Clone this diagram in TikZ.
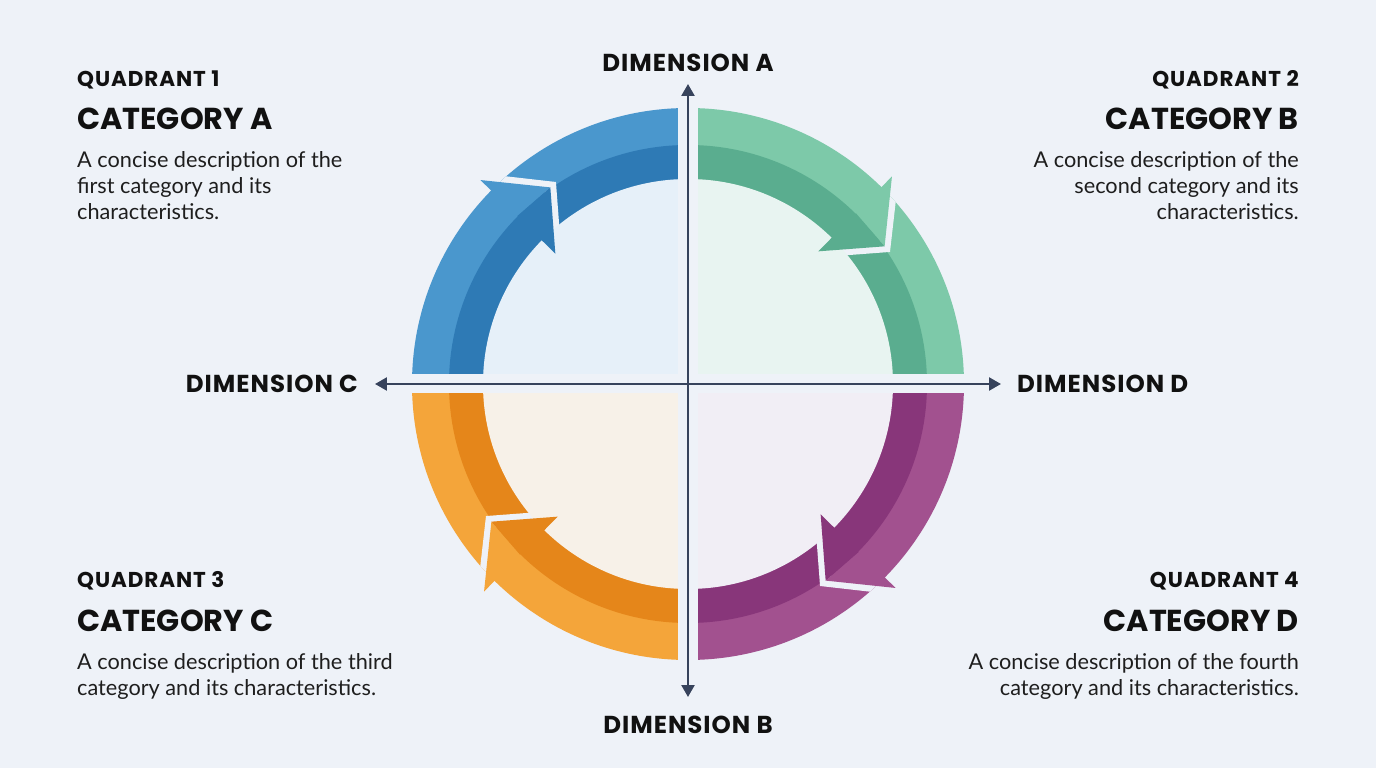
\documentclass[tikz,border=0pt]{standalone}
\usepackage{fontspec}
\setmainfont{Lato}
\newfontfamily\hfont{Poppins}
\newfontfamily\hfontQ{Poppins}[LetterSpace=4.3]
\newfontfamily\hfontD{Poppins}[LetterSpace=4]
\usetikzlibrary{arrows.meta}
\definecolor{bgc}{HTML}{EEF2F8}
\definecolor{axisc}{HTML}{37435C}
\definecolor{txt}{HTML}{111111}
\definecolor{body}{HTML}{1E1E1E}
\definecolor{blueL}{HTML}{4A97CD}
\definecolor{blueD}{HTML}{2E7AB5}
\definecolor{blueT}{HTML}{E6F0F9}
\definecolor{greenL}{HTML}{7DC9A9}
\definecolor{greenD}{HTML}{5AAD8F}
\definecolor{greenT}{HTML}{E8F4F1}
\definecolor{orangeL}{HTML}{F4A53A}
\definecolor{orangeD}{HTML}{E5861A}
\definecolor{orangeT}{HTML}{F7F1E8}
\definecolor{purpleL}{HTML}{A2518F}
\definecolor{purpleD}{HTML}{88367A}
\definecolor{purpleT}{HTML}{F1EEF5}
\tikzset{
  dimlabel/.style={font=\hfontD\bfseries\fontsize{24.5}{28}\selectfont, text=txt, inner sep=0pt},
  qlabel/.style={font=\hfontQ\bfseries\fontsize{21.5}{24}\selectfont, text=txt, inner sep=0pt},
  catlabel/.style={font=\hfont\bfseries\fontsize{30.3}{34}\selectfont, text=txt, inner sep=0pt},
  desc/.style={font=\fontsize{21.7}{26}\selectfont, text=body, inner sep=0pt},
  axisline/.style={draw=axisc, line width=2.4pt, arrows={Triangle[length=12pt,width=13pt]-Triangle[length=12pt,width=13pt]}},
}
\begin{document}
\begin{tikzpicture}[x=1pt,y=1pt]
\useasboundingbox (-688,-384) rectangle (688,384);
\fill[bgc] (-688,-384) rectangle (688,384);

% quadrants: sx/sy/light/dark/tint/base angle
\foreach \sx/\sy/\cL/\cD/\cT/\b in {-1/1/blueL/blueD/blueT/135.5, 1/1/greenL/greenD/greenT/45.5, -1/-1/orangeL/orangeD/orangeT/225.5, 1/-1/purpleL/purpleD/purpleT/315.5}{
  \begin{scope}
    \clip (\sx*10,\sy*10) rectangle (\sx*300,\sy*300);
    \fill[\cL] (0,0) circle (276);
    \fill[\cD] (0,0) circle (239);
    \begin{scope}
      \clip (0,0) circle (276);
      \draw[bgc, line width=12pt, line join=miter] (\b:292) -- (\b-10.5:240) -- (\b:186);
    \end{scope}
    \fill[\cT] (0,0) circle (205);
  \end{scope}
  \fill[\cL] (\b:291) -- (\b:239) -- (\b-10.5:240) -- cycle;
  \fill[\cD] (\b:239.5) -- (\b:186) -- (\b-10.5:240) -- cycle;
}

% axes
\coordinate (axTop) at (0,300);
\coordinate (axBot) at (0,-313);
\coordinate (axL) at (-313,0);
\coordinate (axR) at (313,0);
\draw[axisline] (axBot) -- (axTop);
\draw[axisline] (axL) -- (axR);

% dimension labels
\node[dimlabel, anchor=base] (dimA) at (0,312) {DIMENSION A};
\node[dimlabel, anchor=base] (dimB) at (0,-349) {DIMENSION B};
\node[dimlabel, anchor=base east] (dimC) at (-330,-9) {DIMENSION C};
\node[dimlabel, anchor=base west] (dimD) at (329,-9) {DIMENSION D};

% quadrant 1
\node[qlabel, anchor=base west] (q1) at (-611,297) {QUADRANT 1};
\node[catlabel, anchor=base west] (c1) at (-611,254) {CATEGORY A};
\node[desc, anchor=base west, align=left] (d1) at (-611,164) {A concise description of the\\first category and its\\characteristics.};
% quadrant 2
\node[qlabel, anchor=base east] (q2) at (611,297) {QUADRANT 2};
\node[catlabel, anchor=base east] (c2) at (611,254) {CATEGORY B};
\node[desc, anchor=base east, align=right] (d2) at (611,164) {A concise description of the\\second category and its\\characteristics.};
% quadrant 3
\node[qlabel, anchor=base west] (q3) at (-611,-203) {QUADRANT 3};
\node[catlabel, anchor=base west] (c3) at (-611,-247) {CATEGORY C};
\node[desc, anchor=base west, align=left] (d3) at (-611,-311) {A concise description of the third\\category and its characteristics.};
% quadrant 4
\node[qlabel, anchor=base east] (q4) at (611,-203) {QUADRANT 4};
\node[catlabel, anchor=base east] (c4) at (611,-247) {CATEGORY D};
\node[desc, anchor=base east, align=right] (d4) at (611,-311) {A concise description of the fourth\\category and its characteristics.};
\end{tikzpicture}
\end{document}
